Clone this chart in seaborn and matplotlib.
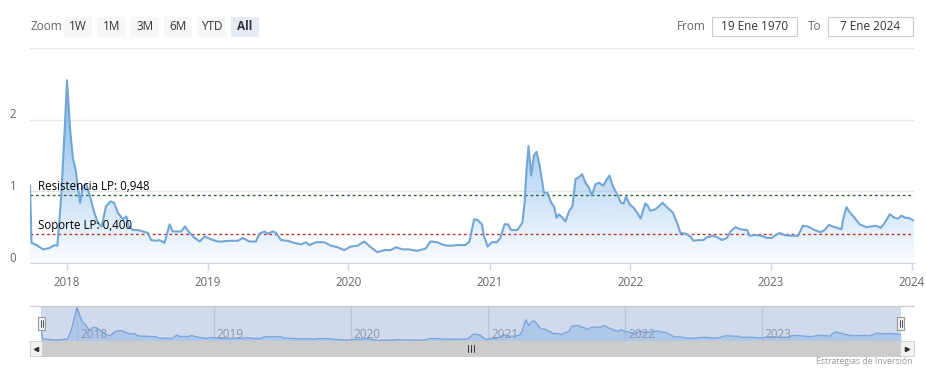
import numpy as np
import pandas as pd
import matplotlib
matplotlib.use('Agg')
import matplotlib.pyplot as plt
import matplotlib.dates as mdates
import matplotlib.transforms as mtransforms
from matplotlib.patches import Rectangle
from matplotlib.lines import Line2D
from matplotlib.colors import LinearSegmentedColormap
import seaborn as sns

# datos (aprox. semanal)
fechas = [
    '2017-09-27', '2017-10-01', '2017-10-14', '2017-10-31', '2017-11-17', '2017-11-30', '2017-12-07', '2017-12-17', '2017-12-26', '2018-01-01',
    '2018-01-09', '2018-01-16', '2018-01-23', '2018-01-29', '2018-02-04', '2018-02-11', '2018-02-20', '2018-02-28', '2018-03-13', '2018-03-22',
    '2018-04-01', '2018-04-12', '2018-04-24', '2018-05-03', '2018-05-13', '2018-05-26', '2018-06-04', '2018-06-10', '2018-06-21', '2018-07-04',
    '2018-07-17', '2018-07-30', '2018-08-07', '2018-08-20', '2018-08-29', '2018-09-11', '2018-09-24', '2018-10-02', '2018-10-11', '2018-10-24',
    '2018-11-03', '2018-11-15', '2018-11-28', '2018-12-11', '2018-12-24', '2019-01-10', '2019-01-27', '2019-02-09', '2019-02-22', '2019-03-20',
    '2019-04-02', '2019-04-19', '2019-05-06', '2019-05-15', '2019-05-28', '2019-06-06', '2019-06-19', '2019-06-27', '2019-07-10', '2019-07-27',
    '2019-08-14', '2019-08-31', '2019-09-13', '2019-09-21', '2019-10-09', '2019-10-30', '2019-11-17', '2019-12-04', '2019-12-21', '2020-01-07',
    '2020-01-24', '2020-02-11', '2020-02-28', '2020-03-16', '2020-04-03', '2020-04-20', '2020-05-03', '2020-05-20', '2020-06-06', '2020-06-27',
    '2020-07-19', '2020-08-01', '2020-08-18', '2020-09-04', '2020-09-22', '2020-10-09', '2020-10-30', '2020-11-10', '2020-11-16', '2020-11-22',
    '2020-12-01', '2020-12-12', '2020-12-18', '2020-12-27', '2021-01-07', '2021-01-20', '2021-01-29', '2021-02-09', '2021-02-18', '2021-02-26',
    '2021-03-14', '2021-03-27', '2021-04-02', '2021-04-07', '2021-04-12', '2021-04-19', '2021-04-26', '2021-05-03', '2021-05-11', '2021-05-22',
    '2021-05-31', '2021-06-10', '2021-06-17', '2021-06-24', '2021-06-30', '2021-07-09', '2021-07-17', '2021-07-26', '2021-08-04', '2021-08-12',
    '2021-08-19', '2021-08-29', '2021-09-07', '2021-09-16', '2021-09-23', '2021-10-03', '2021-10-12', '2021-10-23', '2021-10-30', '2021-11-08',
    '2021-11-17', '2021-11-28', '2021-12-08', '2021-12-15', '2021-12-21', '2021-12-30', '2022-01-10', '2022-01-19', '2022-01-28', '2022-02-09',
    '2022-02-15', '2022-02-22', '2022-03-07', '2022-03-16', '2022-03-26', '2022-04-04', '2022-04-14', '2022-04-22', '2022-05-03', '2022-05-11',
    '2022-05-24', '2022-06-06', '2022-06-14', '2022-06-27', '2022-07-10', '2022-07-19', '2022-08-05', '2022-08-18', '2022-08-27', '2022-09-09',
    '2022-09-18', '2022-10-01', '2022-10-14', '2022-10-31', '2022-11-07', '2022-11-21', '2022-12-08', '2022-12-21', '2023-01-03', '2023-01-13',
    '2023-01-24', '2023-02-06', '2023-02-23', '2023-03-12', '2023-03-25', '2023-04-07', '2023-04-24', '2023-05-10', '2023-05-20', '2023-05-31',
    '2023-06-16', '2023-07-03', '2023-07-07', '2023-07-16', '2023-07-24', '2023-08-06', '2023-08-19', '2023-09-05', '2023-09-18', '2023-10-01',
    '2023-10-13', '2023-10-23', '2023-11-05', '2023-11-18', '2023-11-27', '2023-12-05', '2023-12-16', '2023-12-24', '2024-01-07',
]
valores = [
    1.08, 0.28, 0.25, 0.19, 0.21, 0.25, 0.24, 0.93, 1.87, 2.55,
    1.87, 1.47, 1.31, 1.07, 0.84, 1.07, 1.10, 0.96, 0.70, 0.56,
    0.51, 0.79, 0.86, 0.84, 0.70, 0.61, 0.65, 0.51, 0.46, 0.46,
    0.44, 0.42, 0.32, 0.31, 0.32, 0.28, 0.54, 0.44, 0.44, 0.44,
    0.51, 0.42, 0.35, 0.30, 0.37, 0.33, 0.30, 0.30, 0.31, 0.31,
    0.35, 0.30, 0.30, 0.41, 0.44, 0.41, 0.44, 0.42, 0.32, 0.31,
    0.28, 0.26, 0.29, 0.25, 0.29, 0.29, 0.24, 0.22, 0.18, 0.23,
    0.24, 0.30, 0.22, 0.15, 0.18, 0.18, 0.22, 0.19, 0.19, 0.17,
    0.20, 0.30, 0.29, 0.25, 0.24, 0.25, 0.25, 0.30, 0.46, 0.61,
    0.60, 0.54, 0.37, 0.23, 0.29, 0.29, 0.35, 0.54, 0.54, 0.46,
    0.46, 0.56, 0.84, 1.31, 1.63, 1.22, 1.50, 1.55, 1.36, 0.98,
    0.98, 0.84, 0.79, 0.63, 0.68, 0.63, 0.58, 0.72, 0.79, 1.17,
    1.19, 1.24, 1.12, 1.05, 0.94, 1.10, 1.12, 1.08, 1.15, 1.22,
    1.07, 0.96, 0.84, 0.83, 0.93, 0.82, 0.77, 0.70, 0.62, 0.83,
    0.80, 0.73, 0.75, 0.79, 0.84, 0.79, 0.74, 0.70, 0.55, 0.42,
    0.41, 0.37, 0.31, 0.32, 0.32, 0.36, 0.38, 0.35, 0.32, 0.35,
    0.44, 0.50, 0.47, 0.46, 0.38, 0.39, 0.38, 0.35, 0.35, 0.39,
    0.42, 0.39, 0.38, 0.38, 0.52, 0.51, 0.46, 0.43, 0.46, 0.53,
    0.50, 0.47, 0.61, 0.78, 0.71, 0.63, 0.54, 0.50, 0.51, 0.52,
    0.49, 0.56, 0.68, 0.63, 0.62, 0.66, 0.63, 0.63, 0.59,
]
anios = ['2018', '2019', '2020', '2021', '2022', '2023', '2024']
y_ticks = [0, 1, 2, 3]
y_labels = [0, 1, 2]
resistencia = 0.948
soporte = 0.400
botones = ['1W', '1M', '3M', '6M', 'YTD', 'All']
desde = '19 Ene 1970'
hasta = '7 Ene 2024'

sns.set_style('white')
plt.rcParams['font.family'] = ['Open Sans', 'DejaVu Sans']

df = pd.DataFrame({'fecha': pd.to_datetime(fechas), 'valor': valores})
x0, x1 = df['fecha'].min(), df['fecha'].max()

W, H = 926, 376
fig = plt.figure(figsize=(W / 100, H / 100), dpi=100)


def caja(l, t, r, b):
    # pixeles (origen arriba-izquierda) -> fracciones de figura
    return [l / W, 1 - b / H, (r - l) / W, (b - t) / H]


def fx(px):
    return px / W


def fy(py):
    return 1 - py / H


linea = '#72a6d6'
azul = (124 / 255, 181 / 255, 236 / 255)
grad = LinearSegmentedColormap.from_list('grad', [azul + (0.04,), azul + (1.0,)])

# ---- grafico principal ----
ax = fig.add_axes(caja(30, 48, 914, 263))
sns.lineplot(data=df, x='fecha', y='valor', ax=ax, color=linea, linewidth=1.5, zorder=4)
poly = ax.fill_between(df['fecha'], df['valor'], 0, facecolor='none', linewidth=0)
im = ax.imshow(np.linspace(0, 1, 256).reshape(-1, 1), cmap=grad, origin='lower', aspect='auto',
               extent=[mdates.date2num(x0), mdates.date2num(x1), 0, 2.6], zorder=2)
im.set_clip_path(poly.get_paths()[0], transform=ax.transData)
ax.set_xlim(x0, x1)
ax.set_ylim(0, 3)

ax.axhline(resistencia, color='#2f5f2f', linestyle=(0, (2, 2)), linewidth=1, zorder=3)
ax.axhline(soporte, color='#c0302a', linestyle=(0, (2, 2)), linewidth=1, zorder=3)
t_lab = mtransforms.offset_copy(ax.get_yaxis_transform(), fig=fig, x=0, y=2, units='dots')
ax.text(8 / 884, resistencia, 'Resistencia LP: ' + f'{resistencia:.3f}'.replace('.', ','),
        transform=t_lab, ha='left', va='bottom', fontsize=8.3, color='black', zorder=6)
ax.text(8 / 884, soporte, 'Soporte LP: ' + f'{soporte:.3f}'.replace('.', ','),
        transform=t_lab, ha='left', va='bottom', fontsize=8.3, color='black', zorder=6)

ax.set_yticks(y_ticks)
ax.yaxis.grid(True, color='#e6e6e6', linewidth=1)
ax.xaxis.grid(False)
ax.tick_params(axis='y', length=0, labelleft=False)
t_y = mtransforms.offset_copy(ax.get_yaxis_transform(), fig=fig, x=0, y=5, units='dots')
for v in y_labels:
    ax.text(-17 / 884, v, str(v), transform=t_y, ha='center', va='center', fontsize=8.3, color='#666666')

ax.set_xticks(pd.to_datetime([a + '-01-01' for a in anios]))
ax.set_xticklabels(anios)
ax.tick_params(axis='x', bottom=True, length=5, width=1, color='#ccd6eb', labelsize=8.3,
               labelcolor='#666666', pad=4, direction='out')
for s in ['top', 'right', 'left']:
    ax.spines[s].set_visible(False)
ax.spines['bottom'].set_color('#ccd6eb')
ax.set_xlabel('')
ax.set_ylabel('')

# ---- navegador ----
nav = fig.add_axes(caja(41, 306, 901, 341))
nav.set_facecolor('#d1daed')
sns.lineplot(data=df, x='fecha', y='valor', ax=nav, color='#7aa6dc', linewidth=1, zorder=4)
nav.fill_between(df['fecha'], df['valor'], 0, color='#8fb6e6', alpha=0.5, linewidth=0, zorder=3)
nav.set_xlim(x0, x1)
nav.set_ylim(0.12, 2.62)
for a in anios[:-1]:
    d = pd.Timestamp(a + '-01-01')
    nav.axvline(d, color='#bcc6d9', linewidth=1, zorder=2)
    nav.text(d, 0.2, a, transform=mtransforms.offset_copy(nav.get_xaxis_transform(), fig=fig, x=3, y=0, units='dots'),
             ha='left', va='center', fontsize=8.5, color='#8a94a8', zorder=5)
nav.set_xticks([])
nav.set_yticks([])
nav.set_xlabel('')
nav.set_ylabel('')
for s in nav.spines.values():
    s.set_visible(False)

fig.add_artist(Line2D([fx(30), fx(914)], [fy(306), fy(306)], color='#cccccc', linewidth=1, transform=fig.transFigure))
for hx in [41.5, 900.5]:
    fig.add_artist(Rectangle((fx(hx - 3.5), fy(330)), 7 / W, 13 / H, facecolor='#f2f2f2',
                             edgecolor='#999999', linewidth=0.8, transform=fig.transFigure, zorder=10))
    for dx in [-1, 1]:
        fig.add_artist(Line2D([fx(hx + dx), fx(hx + dx)], [fy(320), fy(327)], color='#333333',
                              linewidth=0.6, transform=fig.transFigure, zorder=11))

# barra de desplazamiento
fig.add_artist(Rectangle((fx(30), fy(356)), 884 / W, 15 / H, facecolor='#f2f2f2', edgecolor='#cccccc',
                         linewidth=0.6, transform=fig.transFigure))
fig.add_artist(Rectangle((fx(42), fy(356)), 858 / W, 15 / H, facecolor='#cccccc', edgecolor='#cccccc',
                         linewidth=0.6, transform=fig.transFigure))
fig.add_artist(Line2D([fx(36)], [fy(348.5)], marker='<', markersize=3, color='#333333', transform=fig.transFigure))
fig.add_artist(Line2D([fx(907)], [fy(348.5)], marker='>', markersize=3, color='#333333', transform=fig.transFigure))
for gx in [468, 471, 474]:
    fig.add_artist(Line2D([fx(gx), fx(gx)], [fy(345), fy(352)], color='#333333', linewidth=0.7,
                          transform=fig.transFigure))

fig.text(fx(913), fy(361), 'Estrategias de Inversión', ha='right', va='center', fontsize=6.2, color='#999999')

# ---- selector de rango ----
fig.text(fx(30), fy(27), 'Zoom', ha='left', va='center', fontsize=8.5, color='#666666')
for i, b in enumerate(botones):
    c = 78 + 33.4 * i
    fc = '#e6ebf5' if b == 'All' else '#f7f7f7'
    fig.add_artist(Rectangle((fx(c - 14), fy(37)), 28 / W, 20 / H, facecolor=fc, edgecolor='none',
                             transform=fig.transFigure))
    fig.text(fx(c), fy(27), b, ha='center', va='center', fontsize=8.5, color='#333333',
             fontweight='bold' if b == 'All' else 'normal')

fig.text(fx(706), fy(26.5), 'From', ha='right', va='center', fontsize=8.5, color='#666666')
fig.text(fx(808), fy(26.5), 'To', ha='left', va='center', fontsize=8.5, color='#666666')
for (l, r), txt in zip([(712, 797), (828, 913)], [desde, hasta]):
    fig.add_artist(Rectangle((fx(l), fy(36)), (r - l) / W, 19 / H, facecolor='white', edgecolor='#cccccc',
                             linewidth=0.8, transform=fig.transFigure))
    fig.text(fx((l + r) / 2), fy(26.5), txt, ha='center', va='center', fontsize=8.5, color='#333333')

fig.savefig('out.png', dpi=100)
